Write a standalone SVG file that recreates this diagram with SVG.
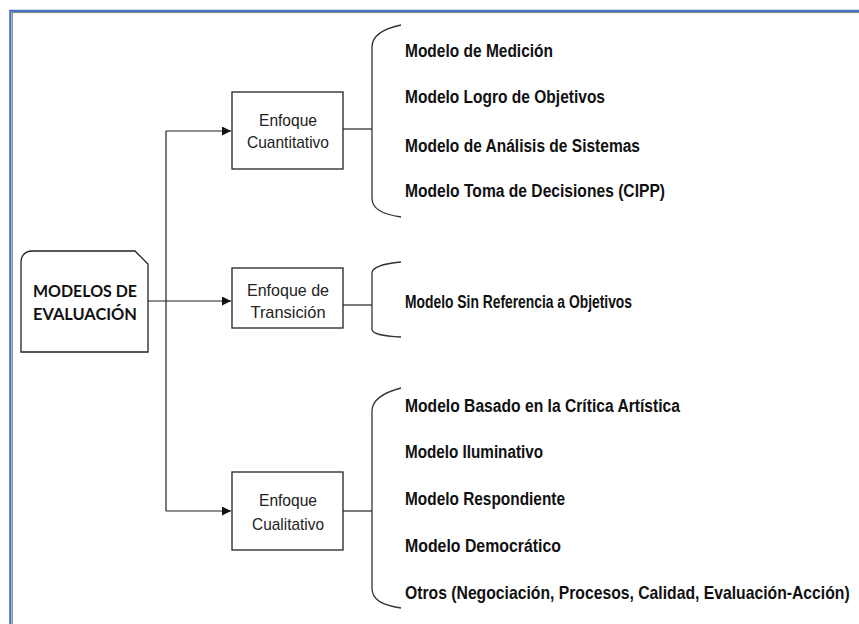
<svg xmlns="http://www.w3.org/2000/svg" width="859" height="624" viewBox="0 0 859 624">
<defs>
<style>
.ln{stroke:#222;stroke-width:1.2;fill:none}
.bx{fill:#fff;stroke:#222;stroke-width:1.3}
.br{stroke:#333;stroke-width:1.3;fill:none}
.bt{font-family:"Liberation Sans",Arial,sans-serif;font-size:17px;fill:#222;text-anchor:middle}
.it{font-family:"Liberation Sans",Arial,sans-serif;font-size:18px;font-weight:bold;fill:#111}
.mt{font-family:Lato,"Open Sans",sans-serif;font-size:17px;font-weight:bold;fill:#111;text-anchor:middle}
</style>
<marker id="ah" markerWidth="10" markerHeight="10" refX="9" refY="4.5" orient="auto" markerUnits="userSpaceOnUse">
<path d="M0,0 L9,4.5 L0,9 Z" fill="#111"/>
</marker>
</defs>
<rect width="859" height="624" fill="#fff"/>
<g id="frame">
<path d="M10.3,624 L10.3,10.8 L859,10.8" fill="none" stroke="#4472c4" stroke-width="2.2"/>
<path d="M12.3,624 L12.3,12.6 L859,12.6" fill="none" stroke="#444" stroke-width="0.7"/>
</g>
<g id="connectors">
<path class="ln" d="M148,301 L231,301" marker-end="url(#ah)"/>
<path class="ln" d="M166,131 L166,511"/>
<path class="ln" d="M166,131 L231,131" marker-end="url(#ah)"/>
<path class="ln" d="M166,511 L231,511" marker-end="url(#ah)"/>
<path class="ln" d="M343,129 L372,129"/>
<path class="ln" d="M343,305 L372,305"/>
<path class="ln" d="M343,511 L372,511"/>
</g>
<g id="braces">
<path class="br" d="M401,25 C382,29 372,36 372,47 L372,198 C372,209 382,214 401,217"/>
<path class="br" d="M401,262 C382,264 372,267 372,273 L372,329 C372,334 382,336 401,337"/>
<path class="br" d="M401,388 C382,393 372,400 372,411 L372,588 C372,600 382,605 401,608"/>
</g>
<g id="root">
<path class="bx" d="M33,251 L135,251 L148,264 L148,352 L21,352 L21,263 Q21,251 33,251 Z"/>
<text class="mt" x="85" y="297" textLength="104" lengthAdjust="spacingAndGlyphs">MODELOS DE</text>
<text class="mt" x="85" y="320" textLength="104" lengthAdjust="spacingAndGlyphs">EVALUACIÓN</text>
</g>
<g id="cuantitativo">
<rect class="bx" x="232" y="92" width="111" height="77"/>
<text class="bt" x="288" y="126" textLength="58" lengthAdjust="spacingAndGlyphs">Enfoque</text>
<text class="bt" x="288" y="148" textLength="82" lengthAdjust="spacingAndGlyphs">Cuantitativo</text>
</g>
<g id="transicion">
<rect class="bx" x="232" y="268" width="111" height="60"/>
<text class="bt" x="288" y="296" textLength="82" lengthAdjust="spacingAndGlyphs">Enfoque de</text>
<text class="bt" x="288" y="318" textLength="75" lengthAdjust="spacingAndGlyphs">Transición</text>
</g>
<g id="cualitativo">
<rect class="bx" x="232" y="472" width="111" height="78"/>
<text class="bt" x="288" y="506" textLength="58" lengthAdjust="spacingAndGlyphs">Enfoque</text>
<text class="bt" x="288" y="530" textLength="72" lengthAdjust="spacingAndGlyphs">Cualitativo</text>
</g>
<g id="items-cuantitativo">
<text class="it" x="405" y="57" textLength="148" lengthAdjust="spacingAndGlyphs">Modelo de Medición</text>
<text class="it" x="405" y="103" textLength="200" lengthAdjust="spacingAndGlyphs">Modelo Logro de Objetivos</text>
<text class="it" x="405" y="152" textLength="235" lengthAdjust="spacingAndGlyphs">Modelo de Análisis de Sistemas</text>
<text class="it" x="405" y="197" textLength="260" lengthAdjust="spacingAndGlyphs">Modelo Toma de Decisiones (CIPP)</text>
</g>
<g id="items-transicion">
<text class="it" x="405" y="308" textLength="227" lengthAdjust="spacingAndGlyphs">Modelo Sin Referencia a Objetivos</text>
</g>
<g id="items-cualitativo">
<text class="it" x="405" y="412" textLength="275" lengthAdjust="spacingAndGlyphs">Modelo Basado en la Crítica Artística</text>
<text class="it" x="405" y="458" textLength="138" lengthAdjust="spacingAndGlyphs">Modelo Iluminativo</text>
<text class="it" x="405" y="505" textLength="160" lengthAdjust="spacingAndGlyphs">Modelo Respondiente</text>
<text class="it" x="405" y="552" textLength="156" lengthAdjust="spacingAndGlyphs">Modelo Democrático</text>
<text class="it" transform="translate(405,599) scale(0.86,1)" x="0" y="0" textLength="517" lengthAdjust="spacingAndGlyphs">Otros (Negociación, Procesos, Calidad, Evaluación-Acción)</text>
</g>
</svg>
